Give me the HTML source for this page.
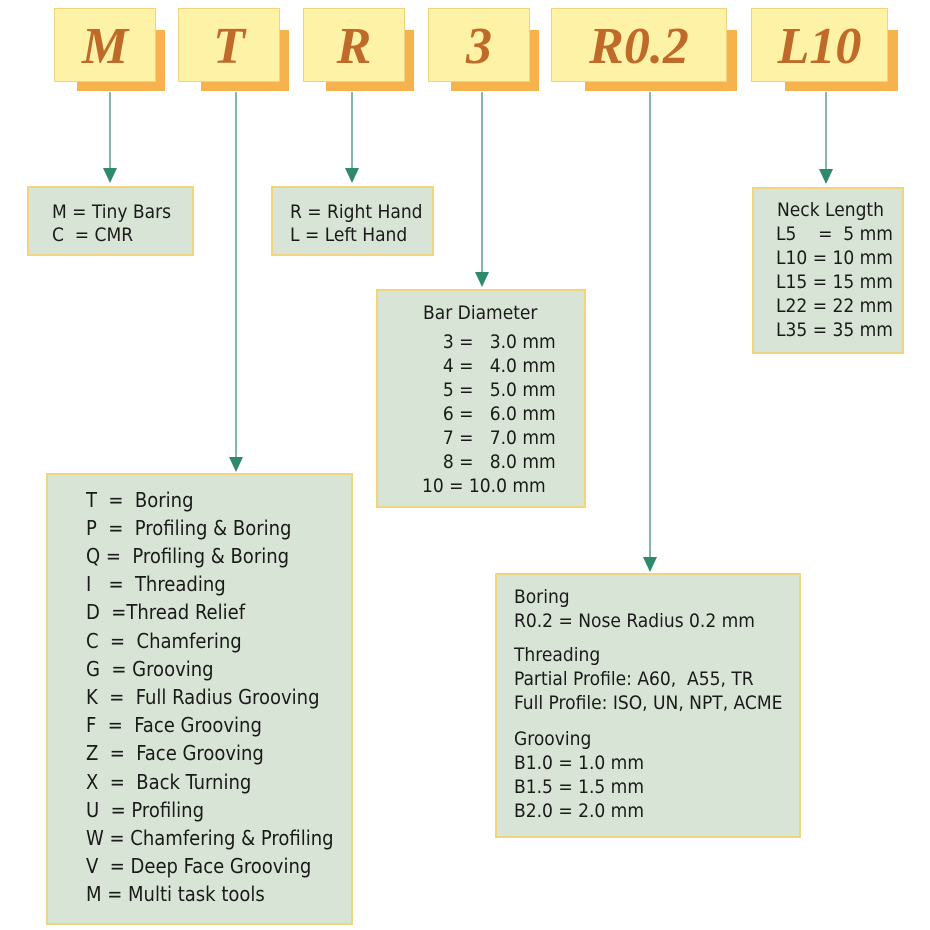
<!DOCTYPE html>
<html><head><style>
body{margin:0;width:930px;height:930px;background:#fff;position:relative;overflow:hidden;font-family:"DejaVu Sans Condensed","Liberation Sans Narrow","Liberation Sans",sans-serif;}
.sh{position:absolute;background:#f6b24c;}
.hd{position:absolute;background:#fdf2a6;border:1px solid #f3d37a;box-sizing:border-box;font-family:"Liberation Serif",serif;font-weight:bold;font-style:italic;color:#c06a2a;font-size:52px;text-align:center;line-height:76px;}
.bx{position:absolute;background:#d8e4d5;border:2px solid #f1d47e;box-sizing:border-box;color:#1a1a1a;font-size:19px;}
.bx div{position:absolute;white-space:pre;}
</style></head><body>
<div class="sh" style="left:77px;top:30px;width:88px;height:61px"></div>
<div class="hd" style="left:54px;top:8px;width:102px;height:74px">M</div>
<div class="sh" style="left:201px;top:30px;width:88px;height:61px"></div>
<div class="hd" style="left:178px;top:8px;width:102px;height:74px">T</div>
<div class="sh" style="left:326px;top:30px;width:88px;height:61px"></div>
<div class="hd" style="left:303px;top:8px;width:102px;height:74px">R</div>
<div class="sh" style="left:451px;top:30px;width:88px;height:61px"></div>
<div class="hd" style="left:428px;top:8px;width:102px;height:74px">3</div>
<div class="sh" style="left:585px;top:30px;width:152px;height:61px"></div>
<div class="hd" style="left:551px;top:8px;width:176px;height:74px">R0.2</div>
<div class="sh" style="left:785px;top:30px;width:113px;height:61px"></div>
<div class="hd" style="left:751px;top:8px;width:137px;height:74px">L10</div>

<svg style="position:absolute;left:0;top:0" width="930" height="930">
<g stroke="#5a9f8c" stroke-width="1.5">
<line x1="110" y1="92" x2="110" y2="172"/>
<line x1="236" y1="92" x2="236" y2="460"/>
<line x1="352" y1="92" x2="352" y2="172"/>
<line x1="482" y1="92" x2="482" y2="276"/>
<line x1="650" y1="92" x2="650" y2="560"/>
<line x1="826" y1="92" x2="826" y2="173"/>
</g>
<g fill="#2e8a68">
<path d="M103,168 L117,168 L110,183Z"/>
<path d="M229,457 L243,457 L236,472Z"/>
<path d="M345,168 L359,168 L352,183Z"/>
<path d="M475,272 L489,272 L482,287Z"/>
<path d="M643,557 L657,557 L650,572Z"/>
<path d="M819,169 L833,169 L826,184Z"/>
</g>
</svg>

<div class="bx" style="left:27px;top:186px;width:167px;height:70px">
<div style="left:23px;top:13px">M = Tiny Bars</div><div style="left:23px;top:36px">C  = CMR</div></div>
<div class="bx" style="left:271px;top:186px;width:163px;height:70px">
<div style="left:17px;top:13px">R = Right Hand</div><div style="left:17px;top:36px">L = Left Hand</div></div>
<div class="bx" style="left:752px;top:187px;width:152px;height:167px">
<div style="left:23px;top:10px">Neck Length</div>
<div style="left:22px;top:34px">L5    =  5 mm</div>
<div style="left:22px;top:58px">L10 = 10 mm</div>
<div style="left:22px;top:82px">L15 = 15 mm</div>
<div style="left:22px;top:106px">L22 = 22 mm</div>
<div style="left:22px;top:130px">L35 = 35 mm</div></div>
<div class="bx" style="left:376px;top:289px;width:210px;height:219px">
<div style="left:45px;top:11px">Bar Diameter</div>
<div style="left:54px;top:40px">  3 =   3.0 mm</div>
<div style="left:54px;top:64px">  4 =   4.0 mm</div>
<div style="left:54px;top:88px">  5 =   5.0 mm</div>
<div style="left:54px;top:112px">  6 =   6.0 mm</div>
<div style="left:54px;top:136px">  7 =   7.0 mm</div>
<div style="left:54px;top:160px">  8 =   8.0 mm</div>
<div style="left:44px;top:184px">10 = 10.0 mm</div></div>
<div class="bx" style="left:46px;top:473px;width:307px;height:452px;font-size:20px">
<div style="left:38px;top:13px">T  =  Boring</div>
<div style="left:38px;top:41px">P  =  Profiling &amp; Boring</div>
<div style="left:38px;top:69px">Q =  Profiling &amp; Boring</div>
<div style="left:38px;top:97px">I   =  Threading</div>
<div style="left:38px;top:125px">D  =Thread Relief</div>
<div style="left:38px;top:154px">C  =  Chamfering</div>
<div style="left:38px;top:182px">G  = Grooving</div>
<div style="left:38px;top:210px">K  =  Full Radius Grooving</div>
<div style="left:38px;top:238px">F  =  Face Grooving</div>
<div style="left:38px;top:266px">Z  =  Face Grooving</div>
<div style="left:38px;top:295px">X  =  Back Turning</div>
<div style="left:38px;top:323px">U  = Profiling</div>
<div style="left:38px;top:351px">W = Chamfering &amp; Profiling</div>
<div style="left:38px;top:379px">V  = Deep Face Grooving</div>
<div style="left:38px;top:407px">M = Multi task tools</div></div>
<div class="bx" style="left:495px;top:573px;width:306px;height:265px">
<div style="left:17px;top:11px">Boring</div>
<div style="left:17px;top:35px">R0.2 = Nose Radius 0.2 mm</div>
<div style="left:17px;top:69px">Threading</div>
<div style="left:17px;top:93px">Partial Profile: A60,  A55, TR</div>
<div style="left:17px;top:117px">Full Profile: ISO, UN, NPT, ACME</div>
<div style="left:17px;top:153px">Grooving</div>
<div style="left:17px;top:177px">B1.0 = 1.0 mm</div>
<div style="left:17px;top:201px">B1.5 = 1.5 mm</div>
<div style="left:17px;top:225px">B2.0 = 2.0 mm</div></div>
</body></html>
